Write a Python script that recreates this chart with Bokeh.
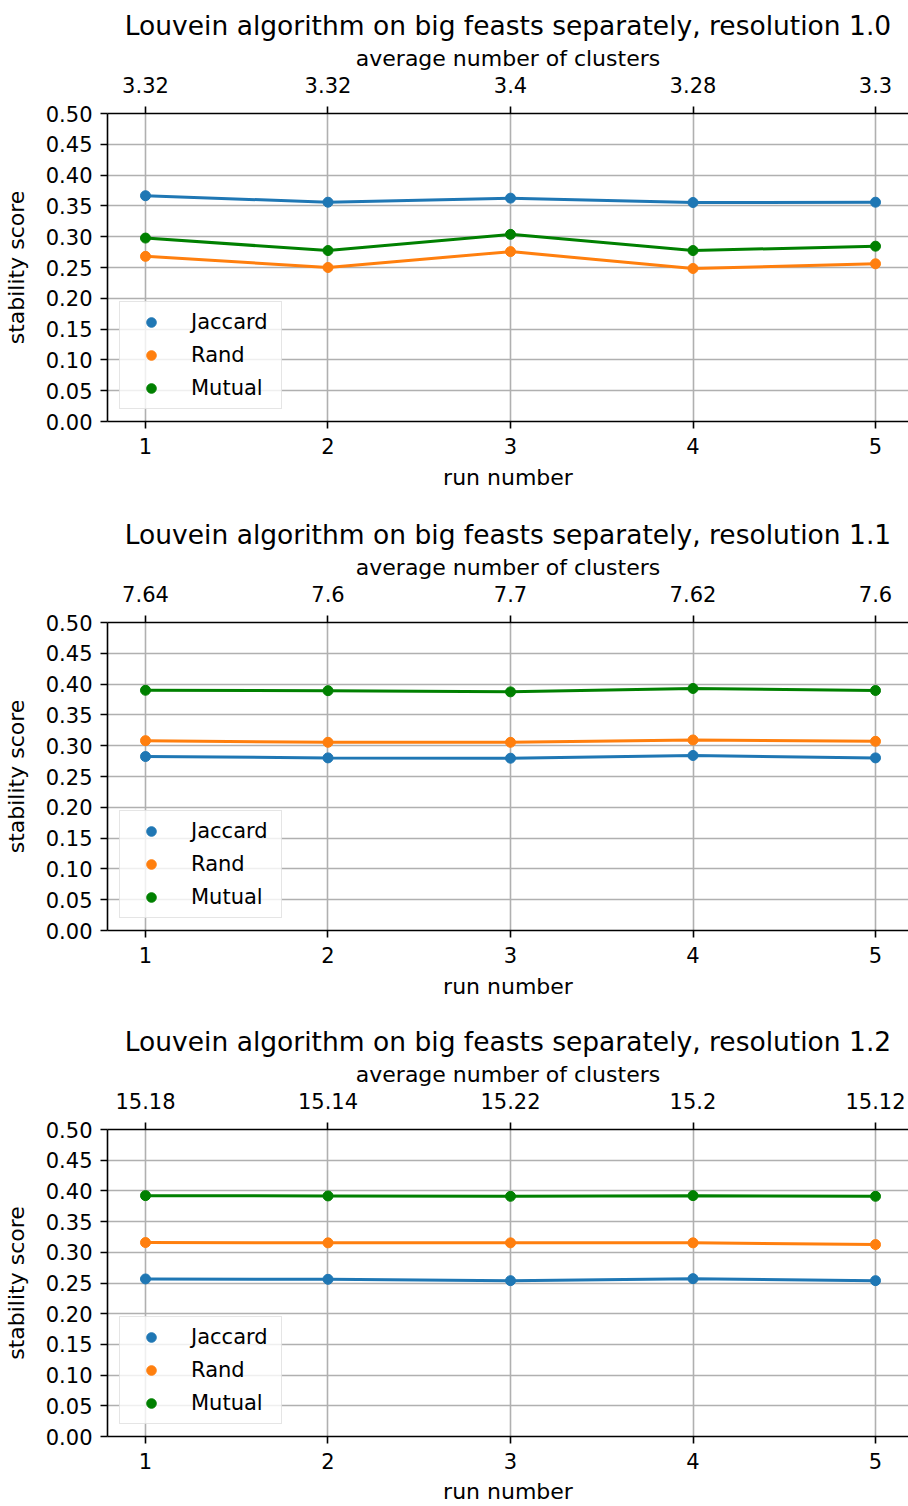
from bokeh.plotting import figure
from bokeh.models import Range1d, LinearAxis, FixedTicker, NumeralTickFormatter
from bokeh.layouts import column
from bokeh.embed import file_html
from bokeh.resources import INLINE

runs = [1, 2, 3, 4, 5]
resolutions = ["1.0", "1.1", "1.2"]

clusters_10 = [3.32, 3.32, 3.4, 3.28, 3.3]
clusters_11 = [7.64, 7.6, 7.7, 7.62, 7.6]
clusters_12 = [15.18, 15.14, 15.22, 15.2, 15.12]

jaccard_10 = [0.3665, 0.3560, 0.3626, 0.3555, 0.3560]
rand_10 = [0.2681, 0.2500, 0.2758, 0.2484, 0.2560]
mutual_10 = [0.2978, 0.2775, 0.3038, 0.2775, 0.2846]

jaccard_11 = [0.2824, 0.2802, 0.2797, 0.2841, 0.2802]
rand_11 = [0.3082, 0.3055, 0.3055, 0.3093, 0.3071]
mutual_11 = [0.3900, 0.3893, 0.3874, 0.3929, 0.3896]

jaccard_12 = [0.2566, 0.2560, 0.2538, 0.2571, 0.2538]
rand_12 = [0.3159, 0.3154, 0.3154, 0.3154, 0.3126]
mutual_12 = [0.3923, 0.3918, 0.3912, 0.3923, 0.3912]

series_names = ["Jaccard", "Rand", "Mutual"]
colors = ["#1f77b4", "#ff7f0e", "#008000"]

FONT = "DejaVu Sans"
panels = [
    (resolutions[0], clusters_10, [jaccard_10, rand_10, mutual_10]),
    (resolutions[1], clusters_11, [jaccard_11, rand_11, mutual_11]),
    (resolutions[2], clusters_12, [jaccard_12, rand_12, mutual_12]),
]
# (figure height, top border, bottom border, x-label standoff)
layout_spec = [(508, 113, 87, 8), (510, 114, 88, 8), (488, 111, 69, 7)]


def style_axis(ax):
    ax.axis_line_color = "black"
    ax.axis_line_width = 1.6
    ax.major_tick_line_color = "black"
    ax.major_tick_line_width = 1.6
    ax.major_tick_out = 7
    ax.major_tick_in = 0
    ax.minor_tick_line_color = None
    ax.major_label_text_font = FONT
    ax.major_label_text_font_size = "21px"
    ax.major_label_text_color = "black"
    ax.axis_label_text_font = FONT
    ax.axis_label_text_font_size = "22px"
    ax.axis_label_text_font_style = "normal"
    ax.axis_label_text_color = "black"


figs = []
for (res, clusters, values), (h, top, bottom, xlab_sd) in zip(panels, layout_spec):
    p = figure(width=908, height=h, x_range=Range1d(0.7918, 5.1808), y_range=Range1d(0, 0.5),
               output_backend="svg", toolbar_location=None,
               min_border_left=107, min_border_right=0, min_border_top=top,
               min_border_bottom=bottom)
    p.outline_line_color = None
    p.background_fill_color = "white"
    p.border_fill_color = "white"

    p.title.text = f"Louvein algorithm on big feasts separately, resolution {res}"
    p.title.align = "center"
    p.title.text_font = FONT
    p.title.text_font_size = "26.5px"
    p.title.text_font_style = "normal"
    p.title.text_color = "black"
    p.title.standoff = 4

    xa = p.xaxis[0]
    xa.ticker = FixedTicker(ticks=runs)
    xa.axis_label = "run number"
    style_axis(xa)
    xa.major_label_standoff = 9
    xa.axis_label_standoff = xlab_sd

    ya = p.yaxis[0]
    ya.ticker = FixedTicker(ticks=[i * 0.05 for i in range(11)])
    ya.formatter = NumeralTickFormatter(format="0.00")
    ya.axis_label = "stability score"
    style_axis(ya)
    ya.major_label_standoff = 8
    ya.axis_label_standoff = 14

    top_ax = LinearAxis(ticker=FixedTicker(ticks=runs),
                        major_label_overrides={r: f"{c:g}" for r, c in zip(runs, clusters)},
                        axis_label="average number of clusters")
    style_axis(top_ax)
    top_ax.major_label_standoff = 14
    top_ax.axis_label_standoff = 3
    p.add_layout(top_ax, "above")

    p.xgrid.ticker = FixedTicker(ticks=runs)
    p.ygrid.ticker = FixedTicker(ticks=[i * 0.05 for i in range(11)])
    for g in (p.xgrid[0], p.ygrid[0]):
        g.grid_line_color = "#b0b0b0"
        g.grid_line_width = 1.6

    for name, vals, col in zip(series_names, values, colors):
        p.line(runs, vals, color=col, line_width=3)
    for name, vals, col in zip(series_names, values, colors):
        p.scatter(runs, vals, size=10, color=col, legend_label=name)

    lg = p.legend[0]
    lg.location = "bottom_left"
    lg.margin = 12
    lg.padding = 8
    lg.spacing = 9
    lg.label_height = 24
    lg.glyph_height = 24
    lg.glyph_width = 46
    lg.label_standoff = 17
    lg.label_width = 82
    lg.label_text_font = FONT
    lg.label_text_font_size = "21px"
    lg.label_text_color = "black"
    lg.border_line_color = "#cccccc"
    lg.border_line_width = 1.6
    lg.background_fill_alpha = 0.8
    figs.append(p)

layout = column(*figs, spacing=0)
open("out.html", "w").write(file_html(layout, INLINE))
